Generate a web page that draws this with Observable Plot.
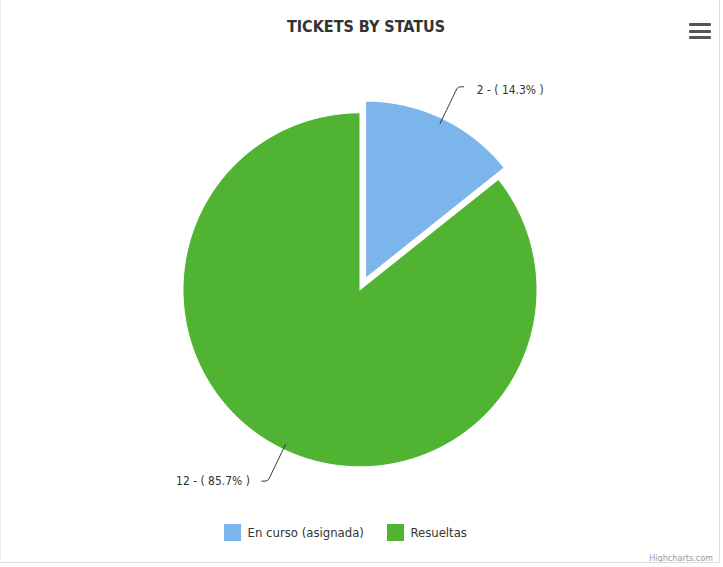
<!DOCTYPE html>
<html>
<head>
<meta charset="utf-8">
<script src="https://cdn.jsdelivr.net/npm/d3@7"></script>
<script src="https://cdn.jsdelivr.net/npm/@observablehq/plot@0.6"></script>
<style>
  html, body { margin: 0; padding: 0; background: #fff; }
  #frame {
    position: relative; width: 720px; height: 563px; box-sizing: border-box;
    border-right: 1px solid #dcdcdc; border-bottom: 1px solid #dcdcdc; border-left: 1px solid #f0f0f0;
    font-family: "DejaVu Sans Condensed", sans-serif; overflow: hidden;
  }
  #title {
    position: absolute; top: 2px; left: 0; width: 100%; height: 45px; line-height: 50px;
    text-align: center; font-size: 16px; font-weight: bold; color: #333; padding-left: 12px; box-sizing: border-box;
  }
  #menu { position: absolute; left: 688px; top: 23px; width: 22px; }
  #menu div { height: 3px; background: #555; margin-bottom: 3.5px; border-radius: 1px; }
  #chart { position: absolute; top: 45px; left: 0; }
  #legend { position: absolute; top: 516px; left: 0; width: 100%; display: flex; justify-content: center; padding-right: 6px; box-sizing: border-box; }
  #legend span[class$="-swatch"] { margin-right: 23px !important; }
  #credit { position: absolute; right: 6px; top: 553px; font-size: 9px; color: #999; font-family: "DejaVu Sans Condensed", sans-serif; }
</style>
</head>
<body>
<div id="frame">
  <div id="title"></div>
  <div id="menu"><div></div><div></div><div></div></div>
  <div id="chart"></div>
  <div id="legend"></div>
  <div id="credit">Highcharts.com</div>
</div>
<script>
// ---- data ----
const title = "TICKETS BY STATUS";
const categories = ["En curso (asignada)", "Resueltas"];
const values = [2, 12];
const colors = ["#7cb5ec", "#50b432"];
const sliced = [true, false];

// ---- layout parameters ----
const W = 720, H = 470;
const cx = 359.5, cy = 245, R = 177.5;
const slicedOffset = 13 / R;   // in radius units
const labelR = 1.2, connStart = 0.97, tip = 6 / R;

document.getElementById("title").textContent = title;

const total = d3.sum(values);
const arcs = d3.pie().sort(null).startAngle(0).endAngle(2 * Math.PI)(values);

const slicePts = [];
const labels = [];
const connectors = [];
arcs.forEach((a, i) => {
  const mid = (a.startAngle + a.endAngle) / 2;
  const off = sliced[i] ? slicedOffset : 0;
  const ox = off * Math.sin(mid), oy = off * Math.cos(mid);
  const name = categories[i];
  slicePts.push({name, x: ox, y: oy});
  const n = Math.max(2, Math.ceil((a.endAngle - a.startAngle) / (Math.PI / 180)));
  for (let k = 0; k <= n; k++) {
    const t = a.startAngle + (a.endAngle - a.startAngle) * k / n;
    slicePts.push({name, x: ox + Math.sin(t), y: oy + Math.cos(t)});
  }
  slicePts.push({name, x: ox, y: oy});
  const right = Math.sin(mid) >= 0;
  const lx = ox + labelR * Math.sin(mid), ly = oy + labelR * Math.cos(mid);
  const tx = lx + (right ? tip : -tip);
  connectors.push({name, x: ox + connStart * Math.sin(mid), y: oy + connStart * Math.cos(mid)});
  connectors.push({name, x: ox + (labelR - 0.02) * Math.sin(mid), y: oy + (labelR - 0.02) * Math.cos(mid)});
  connectors.push({name, x: lx, y: ly});
  connectors.push({name, x: tx, y: ly});
  const pct = (values[i] / total * 100).toFixed(1);
  labels.push({name, x: tx, y: ly, right, text: `${values[i]} - ( ${pct}% )`});
});

const chart = Plot.plot({
  width: W, height: H,
  margin: 0,
  x: {domain: [-1, 1], range: [cx - R, cx + R], axis: null},
  y: {domain: [-1, 1], range: [cy + R, cy - R], axis: null},
  color: {domain: categories, range: colors},
  style: {fontFamily: "'DejaVu Sans Condensed', sans-serif", background: "transparent", overflow: "visible"},
  marks: [
    Plot.line(slicePts, {x: "x", y: "y", z: "name", fill: "name", stroke: "white", strokeWidth: 1, curve: "linear-closed"}),
    Plot.line(connectors, {x: "x", y: "y", z: "name", stroke: "#333", strokeWidth: 1, curve: "basis"}),
    Plot.text(labels.filter(d => d.right), {x: "x", y: "y", text: "text", textAnchor: "start", dx: 13, dy: 3, fontSize: 12, fill: "#333"}),
    Plot.text(labels.filter(d => !d.right), {x: "x", y: "y", text: "text", textAnchor: "end", dx: -12, dy: 0, fontSize: 12, fill: "#333"})
  ]
});
document.getElementById("chart").appendChild(chart);

const legend = Plot.legend({
  color: {type: "ordinal", domain: categories, range: colors},
  swatchSize: 17,
  style: {fontSize: "13px", color: "#333", fontFamily: "'DejaVu Sans Condensed', sans-serif"}
});
document.getElementById("legend").appendChild(legend);
</script>
</body>
</html>
